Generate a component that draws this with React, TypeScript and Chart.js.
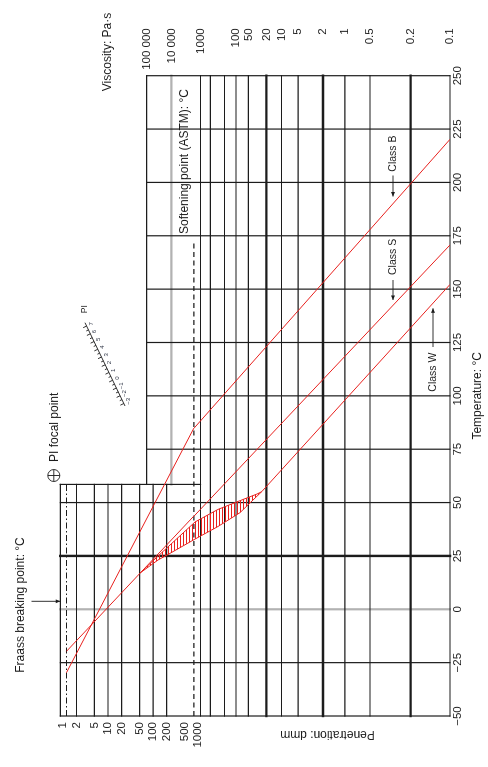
import React, { useEffect, useRef } from 'react';
import { Chart, registerables } from 'chart.js';

Chart.register(...registerables);

// ---------- axis values ----------
const temperatureTicks = [-50, -25, 0, 25, 50, 75, 100, 125, 150, 175, 200, 225, 250];
const penetrationTicks = [1, 2, 5, 10, 20, 50, 100, 200, 500, 1000];
const penetrationTickLabels = ['1', '2', '5', '10', '20', '50', '100', '200', '500', '1000'];
const penetrationGrid = [2, 5, 10, 20, 50, 100, 200];
const viscosityTicks = [100000, 10000, 1000, 100, 50, 20, 10, 5, 2, 1, 0.5, 0.2, 0.1];
const viscosityTickLabels = ['100 000', '10 000', '1000', '100', '50', '20', '10', '5', '2', '1', '0.5', '0.2', '0.1'];
const viscosityGrid = [1000, 500, 200, 100, 50, 20, 10, 5, 2, 1, 0.5, 0.2];
const boldViscosityGrid = [20, 2, 0.2];
const boldTemperatureGrid = [25];
const grayTemperatureGrid = [0];
const grayViscosityGrid = [10000];
const piScaleLabels = ['7', '6', '5', '4', '3', '2', '1', '0', '\u22121', '\u22122', '\u22123'];

// ---------- reference levels ----------
const fraassPenetration = 1.2;
const softeningPointPenetration = 800;
const penetrationPanelTopTemperature = 58.5;
const softeningLineEndTemperature = 171.5;
const viscosityPanelTop = 100000;
const penetrationAxisMin = 0.876;
const penetrationAxisMax = 3.8e8;
const viscosityAxisMin = 0.1;
const viscosityAxisMax = 9.5e9;

// ---------- series (temperature °C, penetration dmm / viscosity Pa·s) ----------
const classBTempLow = [-29.7, 84.9];
const classBPenetration = [1.2, 800];
const classBTempHigh = [84.9, 220.2];
const classBViscosity = [1600, 0.1];

const classSTempLow = [-19.7, 43.7];
const classSPenetration = [1.2, 800];
const classSTempHigh = [43.7, 170.7];
const classSViscosity = [1600, 0.1];

const classWTemp = [55.1, 152.2];
const classWViscosity = [25.2, 0.1];

const waxUpperTemp = [17.0, 27.1, 40.9, 46.8, 50.9, 54.0, 55.1];
const waxUpperViscosity = [199000, 21000, 1500, 302, 79.4, 31.9, 25.2];
const waxLowerTemp = [17.0, 23.1, 25.4, 32.9, 38.8, 45.3, 51.2, 55.1];
const waxLowerViscosity = [199000, 33300, 14700, 1500, 302, 79.4, 39.2, 25.2];

// ---------- styling ----------
const RED = '#e8211e';
const INK = '#1c1c1c';
const GRAY = '#b2b2b2';
const FONT = '"Liberation Sans", Arial, Helvetica, sans-serif';

// viscosity axis is a log-log (Heukelom-type) scale
const viscosityToAxis = (v: number) => Math.log(Math.log10(v) + 2.1);

const toPoints = (xs: number[], ys: number[], f: (v: number) => number = (v) => v) =>
  xs.map((x, i) => ({ x, y: f(ys[i]) }));

const gridPlugin = {
  id: 'btdcGrid',
  beforeDatasetsDraw(chart: any) {
    const { ctx, chartArea, scales } = chart;
    const X = (t: number) => scales.x.getPixelForValue(t);
    const P = (p: number) => scales.yPen.getPixelForValue(p);
    const V = (v: number) => scales.yVisc.getPixelForValue(viscosityToAxis(v));
    const top = chartArea.top;
    const bottom = chartArea.bottom;
    const seg = (x1: number, y1: number, x2: number, y2: number, color: string, w: number, dash: number[] = []) => {
      ctx.save();
      ctx.strokeStyle = color;
      ctx.lineWidth = w;
      ctx.setLineDash(dash);
      ctx.lineCap = dash.length ? 'butt' : 'square';
      ctx.beginPath();
      ctx.moveTo(x1, y1);
      ctx.lineTo(x2, y2);
      ctx.stroke();
      ctx.restore();
    };
    const tLeft = X(-50);
    const tRight = X(250);
    const tPanel = X(penetrationPanelTopTemperature);

    // gray lines first
    grayTemperatureGrid.forEach((t) => seg(X(t), top, X(t), bottom, GRAY, 2.2));
    grayViscosityGrid.forEach((v) => seg(tPanel, V(v), tRight, V(v), GRAY, 2.2));

    // temperature lines
    temperatureTicks.forEach((t) => {
      if (grayTemperatureGrid.includes(t)) return;
      const y1 = t <= penetrationPanelTopTemperature ? top : V(viscosityPanelTop);
      const w = boldTemperatureGrid.includes(t) ? 2.4 : 1.2;
      seg(X(t), y1, X(t), bottom, INK, w);
    });
    // penetration panel edges
    seg(tPanel, top, tPanel, V(1000), INK, 1.2);
    seg(tLeft, top, tPanel, top, INK, 1.2);
    // viscosity panel top edge
    seg(tPanel, V(viscosityPanelTop), tRight, V(viscosityPanelTop), INK, 1.2);
    // penetration grid
    penetrationGrid.forEach((p) => seg(tLeft, P(p), tPanel, P(p), INK, 1.2));
    // viscosity grid
    viscosityGrid.forEach((v) => {
      const w = boldViscosityGrid.includes(v) ? 2.4 : 1.2;
      seg(tLeft, V(v), tRight, V(v), INK, w);
    });
    seg(tLeft, bottom, tRight, bottom, INK, 1.2);
    // Fraass (dash-dot) and softening point (dashed) reference lines
    seg(tLeft, P(fraassPenetration), tPanel, P(fraassPenetration), INK, 1.1, [6, 2.5, 1.5, 2.5]);
    seg(tLeft, P(softeningPointPenetration), X(softeningLineEndTemperature), P(softeningPointPenetration), INK, 1.1, [5, 3.5]);
  },
};

const notesPlugin = {
  id: 'btdcNotes',
  afterDatasetsDraw(chart: any) {
    const { ctx } = chart;
    const font = (s: number) => `${s}px ${FONT}`;
    ctx.save();
    ctx.fillStyle = INK;
    ctx.strokeStyle = INK;
    const arrow = (x1: number, y1: number, x2: number, y2: number) => {
      ctx.lineWidth = 0.9;
      ctx.beginPath();
      ctx.moveTo(x1, y1);
      ctx.lineTo(x2, y2);
      ctx.stroke();
      const a = Math.atan2(y2 - y1, x2 - x1);
      const h = 4.5;
      const w = 1.9;
      ctx.beginPath();
      ctx.moveTo(x2, y2);
      ctx.lineTo(x2 - h * Math.cos(a) + w * Math.sin(a), y2 - h * Math.sin(a) - w * Math.cos(a));
      ctx.lineTo(x2 - h * Math.cos(a) - w * Math.sin(a), y2 - h * Math.sin(a) + w * Math.cos(a));
      ctx.closePath();
      ctx.fill();
    };

    ctx.textBaseline = 'middle';
    ctx.font = font(12);
    ctx.textAlign = 'center';
    ctx.fillText('Viscosity: Pa\u00b7s', 715, 108);
    ctx.fillText('Fraass breaking point: \u00b0C', 162, 21);
    arrow(165.7, 31.5, 165.7, 60.3);
    ctx.fillText('Softening point (ASTM): \u00b0C', 605.5, 185);

    ctx.save();
    ctx.translate(33, 327.5);
    ctx.rotate(-Math.PI / 2);
    ctx.fillText('Penetration: dmm', 0, 0);
    ctx.restore();

    // PI focal point
    ctx.lineWidth = 0.9;
    ctx.beginPath();
    ctx.arc(291.5, 53.8, 6, 0, Math.PI * 2);
    ctx.moveTo(285.5, 53.8);
    ctx.lineTo(297.5, 53.8);
    ctx.moveTo(291.5, 47.8);
    ctx.lineTo(291.5, 59.8);
    ctx.stroke();
    ctx.textAlign = 'left';
    ctx.fillText('PI focal point', 305, 54.5);

    // class labels
    ctx.font = font(10.5);
    ctx.fillText('Class B', 595.3, 393);
    arrow(591.5, 393, 570.5, 393);
    ctx.fillText('Class S', 492, 393);
    arrow(487, 393, 467, 393);
    ctx.fillText('Class W', 375.3, 433);
    arrow(420, 433, 458.7, 433);

    // PI scale
    const sx = 444.3, sy = 85, ex = 361, ey = 125;
    const len = Math.hypot(ex - sx, ey - sy);
    const dx = (ex - sx) / len, dy = (ey - sy) / len;
    const nx = -dy, ny = dx;
    const upx = ny < 0 ? nx : -nx, upy = ny < 0 ? ny : -ny;
    ctx.lineWidth = 0.9;
    ctx.beginPath();
    ctx.moveTo(sx, sy);
    ctx.lineTo(ex, ey);
    ctx.stroke();
    const n = piScaleLabels.length;
    const t0 = 0.04, t1 = 0.97;
    ctx.font = font(6);
    ctx.textAlign = 'center';
    for (let i = 0; i < n * 2 - 1; i++) {
      const t = t0 + ((t1 - t0) * i) / (2 * (n - 1));
      const px = sx + dx * len * t, py = sy + dy * len * t;
      const major = i % 2 === 0;
      const tl = major ? 3.8 : 2.4;
      ctx.beginPath();
      ctx.moveTo(px, py);
      ctx.lineTo(px + upx * tl, py + upy * tl);
      ctx.stroke();
      if (major) {
        ctx.fillStyle = '#3a4050';
        ctx.fillText(piScaleLabels[i / 2], px - upx * 5, py - upy * 5);
        ctx.fillStyle = INK;
      }
    }
    ctx.font = font(8.5);
    ctx.fillText('PI', 457.8, 84.2);
    ctx.restore();
  },
};

export default function App() {
  const canvasRef = useRef<HTMLCanvasElement | null>(null);

  useEffect(() => {
    const canvas = canvasRef.current;
    if (!canvas) return;
    const c2d = canvas.getContext('2d') as CanvasRenderingContext2D;
    const pc = document.createElement('canvas');
    pc.width = 6;
    pc.height = 3;
    const pctx = pc.getContext('2d') as CanvasRenderingContext2D;
    pctx.fillStyle = RED;
    pctx.fillRect(0, 0, 6, 1);
    const hatch = c2d.createPattern(pc, 'repeat');

    const lineDs = (label: string, data: any[], axis: string, extra: any = {}) => ({
      label,
      data,
      yAxisID: axis,
      borderColor: RED,
      borderWidth: 1,
      pointRadius: 0,
      tension: 0,
      fill: false,
      ...extra,
    });

    const chart = new Chart(canvas, {
      type: 'line',
      data: {
        datasets: [
          lineDs('Class B (penetration)', toPoints(classBTempLow, classBPenetration), 'yPen'),
          lineDs('Class B (viscosity)', toPoints(classBTempHigh, classBViscosity, viscosityToAxis), 'yVisc'),
          lineDs('Class S (penetration)', toPoints(classSTempLow, classSPenetration), 'yPen'),
          lineDs('Class S (viscosity)', toPoints(classSTempHigh, classSViscosity, viscosityToAxis), 'yVisc'),
          lineDs('Class W', toPoints(classWTemp, classWViscosity, viscosityToAxis), 'yVisc'),
          lineDs('Wax range upper', toPoints(waxUpperTemp, waxUpperViscosity, viscosityToAxis), 'yVisc', {
            fill: '+1',
            backgroundColor: hatch,
          }),
          lineDs('Wax range lower', toPoints(waxLowerTemp, waxLowerViscosity, viscosityToAxis), 'yVisc'),
        ],
      },
      options: {
        responsive: false,
        animation: false,
        devicePixelRatio: 1,
        events: [],
        layout: { padding: { top: 60.3, left: 0, right: 28.3, bottom: 0 } },
        plugins: { legend: { display: false }, tooltip: { enabled: false } },
        scales: {
          x: {
            type: 'linear',
            position: 'bottom',
            min: -50,
            max: 250,
            grid: { display: false, drawTicks: false },
            border: { display: false },
            ticks: {
              stepSize: 25,
              autoSkip: false,
              maxRotation: 0,
              padding: 1,
              color: INK,
              font: { family: FONT, size: 11.5 },
              callback: (v: any) => (Number(v) < 0 ? '\u2212' + Math.abs(Number(v)) : String(v)),
            },
            afterBuildTicks: (axis: any) => {
              axis.ticks = temperatureTicks.map((value) => ({ value }));
            },
            title: {
              display: true,
              text: 'Temperature: \u00b0C',
              color: INK,
              font: { family: FONT, size: 12 },
              padding: { top: 0, bottom: 3 },
            },
            afterFit: (s: any) => {
              s.height = 38;
            },
          },
          yPen: {
            type: 'logarithmic',
            position: 'left',
            reverse: true,
            min: penetrationAxisMin,
            max: penetrationAxisMax,
            grid: { display: false, drawTicks: false },
            border: { display: false },
            ticks: {
              autoSkip: false,
              padding: 6,
              color: INK,
              font: { family: FONT, size: 11.5 },
              callback: (_v: any, i: number) => penetrationTickLabels[i],
            },
            afterBuildTicks: (axis: any) => {
              axis.ticks = penetrationTicks.map((value) => ({ value }));
            },
            afterFit: (s: any) => {
              s.width = 51;
            },
          },
          yVisc: {
            type: 'linear',
            position: 'right',
            bounds: 'data',
            min: viscosityToAxis(viscosityAxisMin),
            max: viscosityToAxis(viscosityAxisMax),
            grid: { display: false, drawTicks: false },
            border: { display: false },
            ticks: {
              autoSkip: false,
              padding: 6,
              crossAlign: 'far',
              color: INK,
              font: { family: FONT, size: 11.5 },
              callback: (_v: any, i: number) => viscosityTickLabels[i],
            },
            afterBuildTicks: (axis: any) => {
              axis.ticks = viscosityTicks.map((v) => ({ value: viscosityToAxis(v) }));
            },
            afterFit: (s: any) => {
              s.width = 47.4;
            },
          },
        },
      } as any,
      plugins: [gridPlugin, notesPlugin],
    });
    return () => chart.destroy();
  }, []);

  return (
    <div
      style={{
        position: 'fixed',
        left: 0,
        top: 0,
        width: 767,
        height: 488,
        background: '#fff',
        transformOrigin: '0 0',
        transform: 'translate(0px, 767px) rotate(-90deg)',
      }}
    >
      <canvas ref={canvasRef} width={767} height={488} style={{ display: 'block', width: 767, height: 488 }} />
    </div>
  );
}
